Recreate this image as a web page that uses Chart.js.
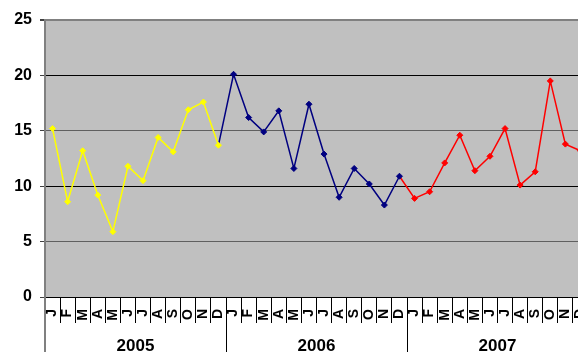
<!DOCTYPE html>
<html>
<head>
<meta charset="utf-8">
<script src="https://cdn.jsdelivr.net/npm/chart.js@4/dist/chart.umd.min.js"></script>
<style>
  html, body { margin: 0; padding: 0; background: #ffffff; overflow: hidden; }
  #wrap { width: 578px; height: 352px; overflow: hidden; position: relative; }
  #monthChart { position: absolute; left: 0; top: 0; }
</style>
</head>
<body>
<div id="wrap">
  <canvas id="monthChart" width="600" height="352"></canvas>
</div>
<script>
// data
const monthLetters = ['J', 'F', 'M', 'A', 'M', 'J', 'J', 'A', 'S', 'O', 'N', 'D'];
const years = ['2005', '2006', '2007'];
const values2005 = [15.2, 8.6, 13.2, 9.2, 5.9, 11.8, 10.5, 14.4, 13.1, 16.9, 17.6, 13.7];
const values2006 = [20.1, 16.2, 14.9, 16.8, 11.6, 17.4, 12.9, 9.0, 11.6, 10.2, 8.3, 10.9];
const values2007 = [8.9, 9.5, 12.1, 14.6, 11.4, 12.7, 15.2, 10.1, 11.3, 19.5, 13.8, 13.2];
const yTicks = [0, 5, 10, 15, 20, 25];
const seriesColors = ['#FFFF00', '#000080', '#FF0000'];

const ctx = document.getElementById('monthChart').getContext('2d');

// one label per month over the three years
const allLabels = [];
for (let y = 0; y < years.length; y++) {
    for (let m = 0; m < monthLetters.length; m++) {
        allLabels.push(monthLetters[m]);
    }
}

// each year's line starts from the previous December so the lines join up
function buildSeries(values, yearIndex, prevValues) {
    const data = new Array(allLabels.length).fill(null);
    const radius = new Array(allLabels.length).fill(3);
    const start = yearIndex * 12;
    if (prevValues) {
        data[start - 1] = prevValues[prevValues.length - 1];
        radius[start - 1] = 0;
    }
    for (let i = 0; i < values.length; i++) {
        data[start + i] = values[i];
    }
    return { data, radius };
}

const s2005 = buildSeries(values2005, 0, null);
const s2006 = buildSeries(values2006, 1, values2005);
const s2007 = buildSeries(values2007, 2, values2006);

function makeDataset(label, series, color) {
    return {
        label: label,
        data: series.data,
        borderColor: color,
        backgroundColor: color,
        borderWidth: 1.5,
        pointStyle: 'rectRot',
        pointRadius: series.radius,
        pointBorderWidth: 1,
        pointHoverRadius: 0,
        tension: 0,
        spanGaps: false
    };
}

const plotBackground = {
    id: 'plotBackground',
    beforeDraw(chart) {
        const a = chart.chartArea;
        const c = chart.ctx;
        c.save();
        c.fillStyle = '#C0C0C0';
        c.fillRect(a.left, a.top, a.right - a.left, a.bottom - a.top);
        c.restore();
    }
};

// year row under the month letters
const yearRow = {
    id: 'yearRow',
    afterDraw(chart) {
        const c = chart.ctx;
        const a = chart.chartArea;
        const xs = chart.scales.x;
        const bottom = chart.height;
        c.save();
        // left axis continues down
        c.strokeStyle = '#808080';
        c.lineWidth = 2;
        c.beginPath();
        c.moveTo(a.left, a.bottom);
        c.lineTo(a.left, bottom);
        c.stroke();
        // separators between years
        c.strokeStyle = '#000000';
        c.lineWidth = 1;
        for (let k = 1; k < years.length; k++) {
            const x = Math.round((xs.getPixelForValue(12 * k - 1) + xs.getPixelForValue(12 * k)) / 2) + 0.5;
            c.beginPath();
            c.moveTo(x, a.bottom);
            c.lineTo(x, bottom);
            c.stroke();
        }
        c.fillStyle = '#000000';
        c.font = 'bold 17px Arial, "Liberation Sans", sans-serif';
        c.textAlign = 'center';
        c.textBaseline = 'alphabetic';
        for (let k = 0; k < years.length; k++) {
            const x = (xs.getPixelForValue(12 * k) + xs.getPixelForValue(12 * k + 11)) / 2;
            c.fillText(years[k], x, bottom - 1);
        }
        c.restore();
    }
};

function gridColor(context) {
    const v = context.tick ? context.tick.value : 0;
    if (v === 25) return '#808080';
    if (v === 5 || v === 15) return '#606060';
    return '#000000';
}

const myChart = new Chart(ctx, {
    type: 'line',
    data: {
        labels: allLabels,
        datasets: [
            makeDataset('2005', s2005, seriesColors[0]),
            makeDataset('2006', s2006, seriesColors[1]),
            makeDataset('2007', s2007, seriesColors[2])
        ]
    },
    options: {
        responsive: false,
        animation: false,
        events: [],
        layout: {
            padding: { top: 20, right: 12, left: 0, bottom: 0 }
        },
        plugins: {
            legend: { display: false },
            tooltip: { enabled: false }
        },
        scales: {
            x: {
                type: 'category',
                offset: true,
                afterFit: function (scale) { scale.height = 55; },
                border: { display: true, color: '#000000', width: 1 },
                grid: {
                    offset: true,
                    drawOnChartArea: false,
                    drawTicks: true,
                    tickLength: 26,
                    color: '#000000',
                    lineWidth: 1
                },
                ticks: {
                    autoSkip: false,
                    maxRotation: 90,
                    minRotation: 90,
                    padding: -14,
                    color: '#000000',
                    font: { family: 'Arial, "Liberation Sans", sans-serif', size: 14, weight: 'bold' }
                }
            },
            y: {
                min: 0,
                max: 25,
                afterFit: function (scale) { scale.width = 45; },
                afterBuildTicks: function (scale) {
                    scale.ticks = yTicks.map(function (v) { return { value: v }; });
                },
                border: { display: true, color: '#808080', width: 2 },
                grid: {
                    color: gridColor,
                    lineWidth: function (context) { return context.tick && context.tick.value === 25 ? 2 : 1; },
                    tickLength: 5,
                    tickColor: '#404040'
                },
                ticks: {
                    padding: 8,
                    color: '#000000',
                    font: { family: 'Arial, "Liberation Sans", sans-serif', size: 16, weight: 'bold' }
                }
            }
        }
    },
    plugins: [plotBackground, yearRow]
});
</script>
</body>
</html>
